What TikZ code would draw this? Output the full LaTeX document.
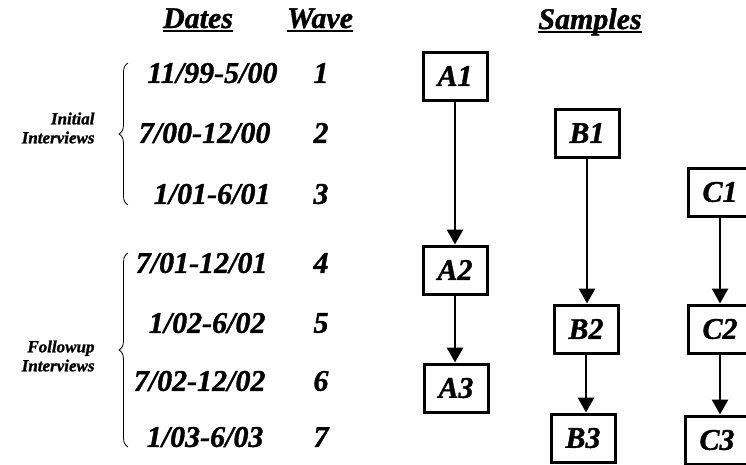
\documentclass[tikz,border=0pt]{standalone}
\usepackage{fontspec}
\setmainfont{Liberation Serif}[BoldItalicFeatures={FakeBold=1.2}]
\usetikzlibrary{arrows.meta,decorations.pathreplacing}
\begin{document}
\begin{tikzpicture}
[x=1pt,y=-1pt,%
  every node/.style={font=\fontsize{30}{32}\selectfont\bfseries\itshape},%
  heading/.style={inner sep=0pt,anchor=base},%
  sample/.style={draw,line width=3pt,minimum width=64pt,minimum height=48pt,inner sep=0pt},%
  flow/.style={line width=2.8pt,-{Triangle[length=15pt,width=16pt]}},%
  group/.style={font=\fontsize{17}{19}\selectfont\bfseries\itshape,align=right,anchor=east},%
  curly/.style={decorate,decoration={brace,amplitude=9pt},line width=0.8pt}]
\useasboundingbox (0,0) rectangle (746,464);
% column headings
\node[heading] (dates) at (198,28) {Dates};
\node[heading] (wave) at (320,28) {Wave};
\node[heading] (samples) at (590,29) {Samples};
\foreach \h in {dates,wave,samples}
  \draw[line width=1.8pt] ([yshift=-3pt]\h.base west) -- ([yshift=-3pt]\h.base east);
% interview periods
\node[anchor=east] (d1) at (281,73) {11/99-5/00};
\node[anchor=east] (d2) at (274,133) {7/00-12/00};
\node[anchor=east] (d3) at (274,194) {1/01-6/01};
\node[anchor=east] (d4) at (271,263) {7/01-12/01};
\node[anchor=east] (d5) at (269,323) {1/02-6/02};
\node[anchor=east] (d6) at (269,381) {7/02-12/02};
\node[anchor=east] (d7) at (267,437) {1/03-6/03};
\foreach \w/\y in {1/73,2/133,3/194,4/263,5/323,6/381,7/437}
  \node (w\w) at (321,\y) {\w};
% braces and group labels
\draw[curly] (128,205) -- (128,63);
\draw[curly] (128,447) -- (128,253);
\node[group] (initial) at (98,128) {Initial\\Interviews};
\node[group] (followup) at (98,356) {Followup\\Interviews};
% samples
\node[sample] (A1) at (455,76) {A1};
\node[sample] (A2) at (455,270) {A2};
\node[sample] (A3) at (456,388) {A3};
\node[sample] (B1) at (587,133) {B1};
\node[sample] (B2) at (586,329) {B2};
\node[sample] (B3) at (583,438) {B3};
\node[sample] (C1) at (720,192) {C1};
\node[sample] (C2) at (720,329) {C2};
\node[sample] (C3) at (717,440) {C3};
\draw[flow] (A1) -- (A1 |- A2.north);
\draw[flow] (A2) -- (A2 |- A3.north);
\draw[flow] (B1) -- (B1 |- B2.north);
\draw[flow] (B2) -- (B2 |- B3.north);
\draw[flow] (C1) -- (C1 |- C2.north);
\draw[flow] (C2) -- (C2 |- C3.north);
\end{tikzpicture}
\end{document}
